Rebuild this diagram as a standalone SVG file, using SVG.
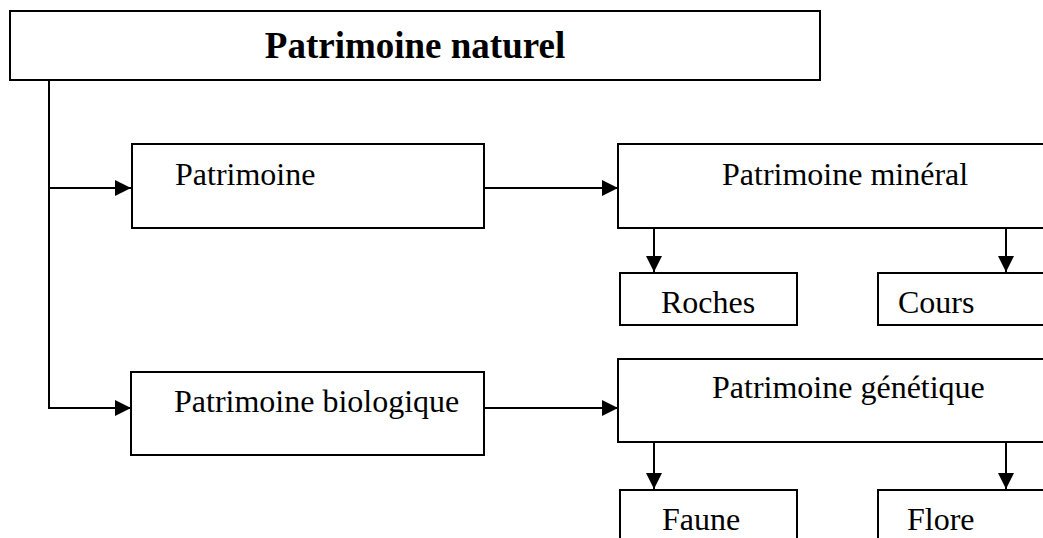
<svg xmlns="http://www.w3.org/2000/svg" width="1043" height="538" viewBox="0 0 1043 538">
  <style>
    .box { fill: #ffffff; stroke: #000000; stroke-width: 2; }
    .lbl { font-family: "Liberation Serif", "Times New Roman", serif; font-size: 32px; fill: #000000; }
    .title { font-family: "Liberation Serif", "Times New Roman", serif; font-size: 37px; font-weight: bold; fill: #000000; }
    .wire { fill: none; stroke: #000000; stroke-width: 2; }
  </style>
  <defs>
    <marker id="arrow" markerUnits="userSpaceOnUse" markerWidth="16" markerHeight="16" viewBox="0 0 16 16" refX="16" refY="8" orient="auto">
      <path d="M0,0 L16,8 L0,16 Z" fill="#000000"/>
    </marker>
  </defs>
  <rect width="1043" height="538" fill="#ffffff"/>

  <g id="connectors">
    <path class="wire" d="M49,80 V409"/>
    <path class="wire" d="M49,188 H131" marker-end="url(#arrow)"/>
    <path class="wire" d="M49,408 H131" marker-end="url(#arrow)"/>
    <path class="wire" d="M484,188 H618" marker-end="url(#arrow)"/>
    <path class="wire" d="M484,408 H618" marker-end="url(#arrow)"/>
    <path class="wire" d="M654,228 V272" marker-end="url(#arrow)"/>
    <path class="wire" d="M1006,228 V272" marker-end="url(#arrow)"/>
    <path class="wire" d="M654,442 V489" marker-end="url(#arrow)"/>
    <path class="wire" d="M1006,442 V489" marker-end="url(#arrow)"/>
  </g>

  <g id="node-naturel">
    <rect class="box" x="10" y="11" width="810" height="69"/>
    <text class="title" x="415" y="58" text-anchor="middle">Patrimoine naturel</text>
  </g>

  <g id="node-patrimoine">
    <rect class="box" x="132" y="144" width="352" height="84"/>
    <text class="lbl" x="175" y="185">Patrimoine</text>
  </g>

  <g id="node-mineral">
    <rect class="box" x="618" y="144" width="460" height="84"/>
    <text class="lbl" x="722" y="185">Patrimoine minéral</text>
  </g>

  <g id="node-roches">
    <rect class="box" x="620" y="273" width="177" height="52"/>
    <text class="lbl" x="708" y="313" text-anchor="middle">Roches</text>
  </g>

  <g id="node-cours">
    <rect class="box" x="878" y="273" width="200" height="52"/>
    <text class="lbl" x="898" y="313">Cours</text>
  </g>

  <g id="node-biologique">
    <rect class="box" x="131" y="372" width="353" height="83"/>
    <text class="lbl" x="174" y="412">Patrimoine biologique</text>
  </g>

  <g id="node-genetique">
    <rect class="box" x="618" y="359" width="460" height="83"/>
    <text class="lbl" x="712" y="398">Patrimoine génétique</text>
  </g>

  <g id="node-faune">
    <rect class="box" x="620" y="490" width="177" height="60"/>
    <text class="lbl" x="662" y="530">Faune</text>
  </g>

  <g id="node-flore">
    <rect class="box" x="878" y="490" width="200" height="60"/>
    <text class="lbl" x="907" y="530">Flore</text>
  </g>
</svg>
